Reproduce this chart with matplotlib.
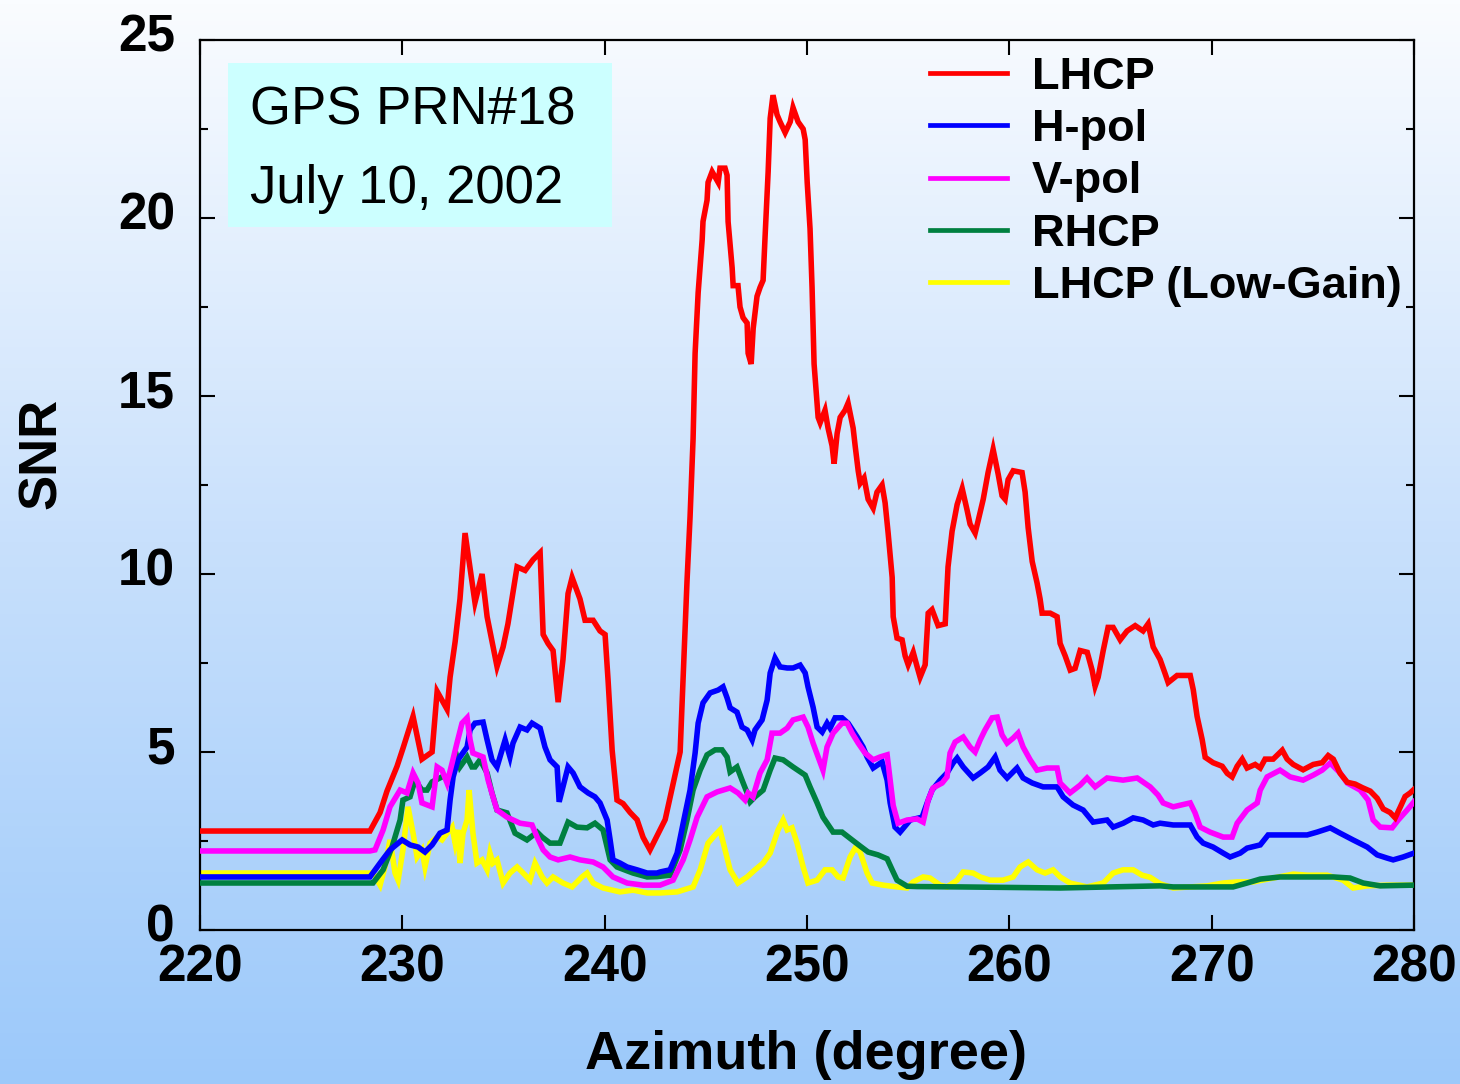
import numpy as np
import matplotlib
matplotlib.use("Agg")
import matplotlib.pyplot as plt
import matplotlib.transforms as mtransforms
from matplotlib.colors import LinearSegmentedColormap
from matplotlib.patches import Rectangle

plt.rcParams['font.family'] = ['Liberation Sans', 'DejaVu Sans']

# ---- data (azimuth in degrees, SNR) ----
lhcp_az = [220, 228.4, 228.9, 229.24, 229.74, 230.03, 230.53, 230.97, 231.47, 231.72,
           232.21, 232.36, 232.61, 232.85, 233.1, 233.59, 233.94, 234.19, 234.68, 234.98,
           235.22, 235.67, 236.07, 236.46, 236.81, 236.96, 237.2, 237.45, 237.7, 237.94,
           238.19, 238.39, 238.78, 239.03, 239.43, 239.77, 240.02, 240.17, 240.37, 240.61,
           240.91, 241.26, 241.6, 241.9, 242.24, 242.64, 242.99, 243.73, 244.07, 244.22,
           244.37, 244.47, 244.62, 244.82, 244.86, 245.06, 245.11, 245.31, 245.61, 245.7,
           245.95, 246.05, 246.1, 246.3, 246.35, 246.59, 246.69, 246.84, 247.04, 247.09,
           247.24, 247.34, 247.53, 247.68, 247.83, 247.93, 248.08, 248.18, 248.32, 248.52,
           248.67, 248.92, 249.17, 249.31, 249.56, 249.81, 249.91, 250.01, 250.15, 250.25,
           250.35, 250.55, 250.65, 250.89, 251.04, 251.24, 251.34, 251.49, 251.64, 251.88,
           252.03, 252.28, 252.38, 252.53, 252.63, 252.82, 253.02, 253.27, 253.46, 253.71,
           253.86, 254.01, 254.21, 254.26, 254.45, 254.7, 254.85, 255.0, 255.25, 255.44,
           255.59, 255.84, 255.99, 256.18, 256.48, 256.83, 256.97, 257.17, 257.42, 257.67,
           257.91, 258.06, 258.31, 258.46, 258.71, 258.95, 259.2, 259.45, 259.64, 259.79,
           259.94, 260.19, 260.63, 260.78, 260.93, 261.13, 261.37, 261.52, 261.62, 262.02,
           262.36, 262.51, 262.76, 263.01, 263.25, 263.5, 263.85, 264.09, 264.24, 264.39,
           264.64, 264.88, 265.13, 265.48, 265.82, 266.22, 266.61, 266.86, 267.11, 267.45,
           267.7, 267.85, 268.29, 268.94, 269.09, 269.28, 269.53, 269.68, 270.07, 270.52,
           270.77, 271.01, 271.26, 271.51, 271.75, 272.15, 272.4, 272.64, 273.04, 273.49,
           273.73, 274.03, 274.52, 275.02, 275.46, 275.76, 276.01, 276.35, 276.7, 277.09,
           277.44, 277.84, 278.18, 278.48, 278.82, 279.07, 279.32, 279.56, 279.81, 280.0]
lhcp_snr = [2.78, 2.78, 3.3, 3.9, 4.6, 5.1, 6.0, 4.8, 5.0, 6.7,
            6.2, 7.1, 8.1, 9.3, 11.15, 9.2, 10.0, 8.8, 7.4, 7.95,
            8.6, 10.2, 10.1, 10.4, 10.6, 8.3, 8.05, 7.85, 6.4, 7.6,
            9.45, 9.9, 9.3, 8.7, 8.7, 8.4, 8.3, 7.0, 5.05, 3.65,
            3.55, 3.3, 3.1, 2.6, 2.25, 2.7, 3.1, 5.0, 9.8, 11.6,
            13.8, 16.2, 17.9, 19.4, 19.9, 20.5, 21.0, 21.3, 21.0, 21.4,
            21.4, 21.2, 19.9, 18.6, 18.1, 18.1, 17.5, 17.2, 17.05, 16.2,
            15.9, 16.9, 17.8, 18.05, 18.25, 19.5, 21.3, 22.8, 23.45, 22.9,
            22.7, 22.4, 22.7, 23.1, 22.7, 22.5, 22.2, 21.0, 19.7, 18.05,
            15.9, 14.4, 14.25, 14.6, 14.1, 13.6, 13.1, 13.95, 14.4, 14.6,
            14.8, 14.1, 13.6, 12.9, 12.55, 12.7, 12.1, 11.85, 12.3, 12.5,
            12.0, 11.15, 9.9, 8.8, 8.2, 8.15, 7.7, 7.45, 7.8, 7.4,
            7.1, 7.45, 8.9, 9.0, 8.55, 8.6, 10.2, 11.2, 11.95, 12.4,
            11.8, 11.4, 11.15, 11.5, 12.1, 12.85, 13.5, 12.8, 12.2, 12.1,
            12.65, 12.9, 12.85, 12.3, 11.3, 10.35, 9.75, 9.3, 8.9, 8.9,
            8.8, 8.05, 7.7, 7.3, 7.35, 7.85, 7.8, 7.3, 6.85, 7.1,
            7.85, 8.5, 8.5, 8.15, 8.4, 8.55, 8.4, 8.6, 7.95, 7.6,
            7.2, 6.95, 7.15, 7.15, 6.75, 6.0, 5.35, 4.85, 4.7, 4.6,
            4.4, 4.3, 4.6, 4.8, 4.55, 4.65, 4.55, 4.8, 4.8, 5.05,
            4.8, 4.65, 4.5, 4.65, 4.7, 4.9, 4.8, 4.4, 4.15, 4.1,
            4.0, 3.9, 3.7, 3.4, 3.3, 3.15, 3.45, 3.75, 3.85, 3.95]

hpol_az = [220, 228.4, 228.9, 229.39, 229.99, 230.38, 230.78, 231.12, 231.47, 231.86,
           232.21, 232.36, 232.51, 232.75, 233.2, 233.35, 233.59, 233.99, 234.19, 234.43,
           234.68, 234.93, 235.08, 235.32, 235.47, 235.82, 236.16, 236.41, 236.81, 237.05,
           237.3, 237.65, 237.75, 237.94, 238.19, 238.44, 238.78, 239.18, 239.52, 239.77,
           240.12, 240.27, 240.41, 240.76, 241.11, 241.6, 242.1, 242.59, 242.74, 243.23,
           243.58, 243.88, 244.22, 244.47, 244.62, 244.86, 245.21, 245.61, 245.85, 246.05,
           246.2, 246.54, 246.79, 247.04, 247.29, 247.43, 247.78, 248.03, 248.18, 248.42,
           248.67, 249.02, 249.31, 249.66, 249.91, 250.05, 250.3, 250.5, 250.75, 250.99,
           251.14, 251.39, 251.73, 252.03, 252.48, 252.77, 252.97, 253.27, 253.71, 253.96,
           254.11, 254.35, 254.6, 255.1, 255.69, 255.94, 256.18, 256.58, 256.92, 257.22,
           257.42, 257.72, 258.21, 258.56, 258.95, 259.3, 259.54, 259.89, 260.38, 260.68,
           261.13, 261.67, 262.36, 262.66, 263.15, 263.65, 264.14, 264.83, 265.13, 265.63,
           266.12, 266.61, 267.11, 267.45, 268.1, 268.94, 269.28, 269.58, 270.07, 270.57,
           270.91, 271.41, 271.75, 272.4, 272.79, 273.88, 274.72, 275.21, 275.86, 276.35,
           276.99, 277.69, 278.18, 278.67, 278.97, 279.46, 280.0]
hpol_snr = [1.49, 1.49, 1.88, 2.25, 2.53, 2.39, 2.33, 2.19, 2.39, 2.72,
            2.81, 3.65, 4.3, 4.78, 5.14, 5.62, 5.81, 5.84, 5.34, 4.78,
            4.58, 5.06, 5.34, 4.86, 5.25, 5.7, 5.62, 5.81, 5.67, 5.14,
            4.78, 4.58, 3.6, 4.02, 4.58, 4.41, 4.02, 3.85, 3.74, 3.57,
            3.09, 2.53, 1.97, 1.88, 1.77, 1.69, 1.6, 1.6, 1.63, 1.69,
            2.16, 3.0, 3.93, 4.97, 5.81, 6.38, 6.66, 6.74, 6.83, 6.52,
            6.24, 6.12, 5.7, 5.62, 5.34, 5.62, 5.9, 6.46, 7.22, 7.64,
            7.39, 7.36, 7.36, 7.44, 7.22, 6.83, 6.26, 5.7, 5.56, 5.81,
            5.67, 5.96, 5.96, 5.81, 5.42, 5.14, 4.86, 4.55, 4.72, 4.21,
            3.57, 2.89, 2.75, 3.09, 3.17, 3.57, 3.93, 4.21, 4.41, 4.69,
            4.83, 4.58, 4.27, 4.41, 4.58, 4.86, 4.49, 4.27, 4.55, 4.27,
            4.13, 4.02, 4.02, 3.74, 3.51, 3.37, 3.03, 3.09, 2.89, 3.0,
            3.15, 3.09, 2.95, 3.0, 2.95, 2.95, 2.61, 2.44, 2.33, 2.16,
            2.05, 2.16, 2.3, 2.39, 2.67, 2.67, 2.67, 2.75, 2.87, 2.72,
            2.53, 2.33, 2.11, 2.02, 1.97, 2.05, 2.16]

vpol_az = [220, 228.4, 228.65, 229.05, 229.39, 229.89, 230.23, 230.53, 230.78, 230.97,
           231.47, 231.72, 231.96, 232.21, 232.46, 232.7, 232.95, 233.2, 233.35, 233.49,
           233.99, 234.24, 234.48, 234.68, 235.17, 235.82, 236.41, 236.66, 236.96, 237.3,
           237.7, 238.29, 238.78, 239.43, 239.92, 240.41, 241.11, 241.9, 242.74, 243.38,
           243.88, 244.22, 244.57, 245.06, 245.56, 246.2, 246.59, 246.94, 247.09, 247.33,
           247.68, 248.03, 248.27, 248.67, 249.02, 249.31, 249.81, 250.05, 250.3, 250.55,
           250.79, 250.99, 251.29, 251.73, 251.98, 252.23, 252.53, 252.87, 253.27, 253.61,
           253.96, 254.11, 254.26, 254.5, 254.95, 255.44, 255.74, 255.99, 256.23, 256.68,
           256.92, 257.07, 257.32, 257.72, 258.06, 258.31, 258.56, 258.8, 259.15, 259.4,
           259.64, 259.89, 260.19, 260.43, 260.68, 261.03, 261.37, 261.87, 262.36, 262.51,
           263.0, 263.5, 263.84, 264.24, 264.83, 265.62, 266.32, 266.96, 267.35, 267.6,
           268.1, 268.94, 269.18, 269.43, 269.92, 270.57, 271.01, 271.26, 271.75, 272.25,
           272.4, 272.74, 273.38, 273.88, 274.52, 275.02, 275.46, 275.86, 276.35, 276.7,
           277.34, 277.73, 277.98, 278.33, 278.92, 279.22, 279.66, 280.0]
vpol_snr = [2.22, 2.22, 2.25, 2.81, 3.46, 3.93, 3.85, 4.41, 4.13, 3.57,
            3.46, 4.58, 4.49, 4.13, 4.69, 5.25, 5.81, 5.96, 5.34, 4.97,
            4.86, 4.21, 3.74, 3.37, 3.17, 3.0, 2.95, 2.61, 2.25, 2.05,
            1.97, 2.05, 1.97, 1.91, 1.77, 1.49, 1.32, 1.26, 1.26, 1.4,
            1.97, 2.53, 3.17, 3.74, 3.88, 3.99, 3.85, 3.65, 3.85, 3.74,
            4.41, 4.78, 5.53, 5.53, 5.67, 5.9, 5.98, 5.7, 5.25, 4.86,
            4.49, 5.14, 5.53, 5.81, 5.81, 5.53, 5.25, 4.97, 4.78, 4.86,
            4.92, 4.21, 3.5, 3.0, 3.09, 3.12, 3.03, 3.65, 3.99, 4.13,
            4.3, 4.97, 5.28, 5.42, 5.14, 5.0, 5.34, 5.62, 5.96, 5.98,
            5.48, 5.25, 5.39, 5.53, 5.14, 4.78, 4.49, 4.55, 4.55, 4.13,
            3.85, 4.07, 4.27, 4.02, 4.27, 4.21, 4.27, 4.02, 3.79, 3.57,
            3.46, 3.57, 3.29, 2.89, 2.75, 2.61, 2.61, 3.0, 3.37, 3.57,
            3.93, 4.3, 4.49, 4.3, 4.21, 4.35, 4.49, 4.69, 4.41, 4.13,
            3.93, 3.65, 3.09, 2.89, 2.87, 3.09, 3.37, 3.6]

rhcp_az = [220, 228.4, 228.55, 229.05, 229.49, 229.89, 230.03, 230.38, 230.63, 230.97,
           231.22, 231.47, 231.96, 232.36, 232.7, 232.85, 233.2, 233.44, 233.59, 233.84,
           234.19, 234.43, 234.68, 235.17, 235.57, 236.16, 236.66, 236.91, 237.3, 237.79,
           238.19, 238.63, 239.13, 239.52, 239.92, 240.27, 240.61, 241.4, 242.1, 242.59,
           243.23, 243.73, 244.07, 244.37, 244.72, 245.06, 245.46, 245.8, 246.05, 246.2,
           246.54, 246.79, 247.04, 247.19, 247.43, 247.83, 248.18, 248.42, 248.82, 249.31,
           249.91, 250.15, 250.5, 250.79, 251.29, 251.73, 252.23, 252.62, 253.02, 253.51,
           253.96, 254.21, 254.45, 254.95, 255.44, 257.57, 262.51, 267.45, 268.1, 269.78,
           271.06, 271.75, 272.4, 273.38, 274.72, 276.01, 276.84, 277.49, 278.33, 280.0]
rhcp_snr = [1.32, 1.32, 1.32, 1.69, 2.33, 3.09, 3.65, 3.74, 4.21, 3.93,
            3.93, 4.16, 4.3, 4.3, 4.86, 4.58, 4.86, 4.58, 4.58, 4.78,
            4.41, 3.85, 3.37, 3.29, 2.72, 2.53, 2.75, 2.61, 2.44, 2.44,
            3.03, 2.89, 2.87, 3.0, 2.81, 1.97, 1.77, 1.6, 1.49, 1.5,
            1.54, 2.25, 3.09, 3.93, 4.49, 4.92, 5.06, 5.06, 4.86, 4.44,
            4.58, 4.21, 3.85, 3.6, 3.74, 3.93, 4.49, 4.83, 4.78, 4.58,
            4.35, 4.02, 3.57, 3.17, 2.75, 2.75, 2.53, 2.36, 2.19, 2.11,
            2.0, 1.69, 1.4, 1.23, 1.22, 1.21, 1.18, 1.24, 1.21, 1.21,
            1.21, 1.32, 1.43, 1.49, 1.49, 1.49, 1.46, 1.32, 1.24, 1.26]

lowgain_az = [220, 228.4, 228.55, 228.9, 229.14, 229.39, 229.64, 229.79, 230.03, 230.28,
              230.53, 230.73, 230.97, 231.12, 231.37, 231.72, 231.96, 232.21, 232.46, 232.61,
              232.75, 232.85, 233.0, 233.2, 233.3, 233.49, 233.69, 233.94, 234.19, 234.33,
              234.48, 234.68, 234.98, 235.32, 235.67, 235.97, 236.31, 236.56, 236.91, 237.15,
              237.45, 237.94, 238.39, 238.88, 239.13, 239.43, 239.92, 240.76, 241.4, 242.1,
              242.74, 243.58, 244.37, 244.72, 245.11, 245.46, 245.7, 245.95, 246.2, 246.59,
              247.04, 247.43, 247.83, 248.18, 248.57, 248.82, 249.02, 249.26, 249.51, 249.81,
              250.05, 250.5, 250.89, 251.24, 251.54, 251.78, 252.13, 252.38, 252.62, 252.97,
              253.22, 253.76, 254.45, 254.95, 255.25, 255.74, 256.08, 256.58, 256.92, 257.42,
              257.72, 258.21, 258.56, 259.05, 259.69, 260.19, 260.53, 260.93, 261.37, 261.77,
              262.16, 262.51, 263.0, 263.84, 264.64, 265.13, 265.62, 266.12, 266.56, 266.96,
              267.45, 268.1, 268.94, 269.78, 270.57, 271.26, 272.05, 273.04, 274.03, 274.72,
              275.71, 276.5, 276.99, 277.69, 278.67, 280.0]
lowgain_snr = [1.6, 1.6, 1.6, 1.26, 1.77, 2.53, 1.6, 1.4, 2.25, 3.46,
               2.72, 2.05, 2.25, 1.77, 2.44, 2.61, 2.53, 2.72, 2.89, 2.44,
               2.81, 1.88, 2.72, 3.09, 3.93, 2.72, 1.88, 1.97, 1.69, 2.16,
               1.88, 1.97, 1.32, 1.6, 1.77, 1.6, 1.4, 1.88, 1.49, 1.32,
               1.49, 1.32, 1.21, 1.49, 1.6, 1.32, 1.18, 1.07, 1.12, 1.04,
               1.04, 1.07, 1.21, 1.69, 2.44, 2.67, 2.81, 2.25, 1.69, 1.32,
               1.49, 1.69, 1.88, 2.16, 2.81, 3.09, 2.81, 2.87, 2.44, 1.77,
               1.32, 1.4, 1.69, 1.69, 1.49, 1.46, 2.05, 2.3, 2.2, 1.6,
               1.32, 1.26, 1.21, 1.18, 1.35, 1.49, 1.46, 1.26, 1.21, 1.4,
               1.63, 1.6, 1.49, 1.4, 1.4, 1.49, 1.77, 1.91, 1.69, 1.6,
               1.69, 1.49, 1.32, 1.21, 1.32, 1.6, 1.69, 1.69, 1.54, 1.48,
               1.3, 1.18, 1.21, 1.24, 1.32, 1.35, 1.35, 1.46, 1.57, 1.54,
               1.54, 1.4, 1.18, 1.24, 1.26, 1.26]

series_names = ['LHCP', 'H-pol', 'V-pol', 'RHCP', 'LHCP (Low-Gain)']
series_colors = ['#FF0000', '#0000FF', '#FF00FF', '#008040', '#FFFF00']
x_ticks = [220, 230, 240, 250, 260, 270, 280]
y_ticks = [0, 5, 10, 15, 20, 25]

fig = plt.figure(figsize=(14.6, 10.84), dpi=100)

# background gradient: near white at top to light blue at bottom
bg = fig.add_axes([0, 0, 1, 1], zorder=-10)
grad_cmap = LinearSegmentedColormap.from_list('bg', ['#9CC9FA', '#C8E0FC', '#FAFCFF'])
bg.imshow(np.linspace(0, 1, 256).reshape(-1, 1)[::-1], aspect='auto', cmap=grad_cmap,
          extent=[0, 1, 0, 1])
bg.axis('off')

ax = fig.add_axes([200 / 1460, 154 / 1084, 1214 / 1460, 890 / 1084])
ax.set_facecolor('none')

data = {
    'LHCP': (lhcp_az, lhcp_snr),
    'H-pol': (hpol_az, hpol_snr),
    'V-pol': (vpol_az, vpol_snr),
    'RHCP': (rhcp_az, rhcp_snr),
    'LHCP (Low-Gain)': (lowgain_az, lowgain_snr),
}
zorders = {'LHCP (Low-Gain)': 2, 'RHCP': 3, 'H-pol': 4, 'V-pol': 5, 'LHCP': 6}
handles = []
for name, color in zip(series_names, series_colors):
    az, snr = data[name]
    line, = ax.plot(az, snr, color=color, lw=4.0, zorder=zorders[name],
                    solid_joinstyle='miter', label=name)
    handles.append(line)

ax.set_xlim(220, 280)
ax.set_ylim(0, 25)
ax.set_xticks(x_ticks)
ax.set_yticks(y_ticks)
ax.set_yticks(np.arange(2.5, 25, 5), minor=True)
ax.tick_params(axis='both', which='major', direction='in', length=11, width=1.5,
               top=True, right=True, labelsize=37)
ax.tick_params(axis='y', which='minor', direction='in', length=6, width=1.5,
               left=True, right=True)
ax.tick_params(axis='y', which='major', pad=18)
ax.tick_params(axis='x', which='major', pad=10)
for lab in ax.get_xticklabels() + ax.get_yticklabels():
    lab.set_fontweight('bold')
# y tick labels sit a little above their ticks in the original
lift = mtransforms.ScaledTranslation(0, 8 / 100, fig.dpi_scale_trans)
for lab in ax.yaxis.get_majorticklabels():
    lab.set_transform(lab.get_transform() + lift)
for sp in ax.spines.values():
    sp.set_linewidth(1.6)

ax.set_xlabel('Azimuth (degree)', fontsize=39, fontweight='bold')
ax.set_ylabel('SNR', fontsize=38, fontweight='bold')
ax.xaxis.set_label_coords(0.499, -0.112)
ax.yaxis.set_label_coords(-0.1095, 0.536)

# info box
ax.add_patch(Rectangle((0.023, 0.790), 0.316, 0.184, transform=ax.transAxes,
                       facecolor='#CCFFFF', edgecolor='none', zorder=1))
ax.text(0.041, 0.9045, 'GPS PRN#18', transform=ax.transAxes, fontsize=38,
        va='baseline', ha='left', zorder=7)
ax.text(0.041, 0.817, 'July 10, 2002', transform=ax.transAxes, fontsize=38,
        va='baseline', ha='left', zorder=7)

leg = ax.legend(handles, series_names, loc='upper left', bbox_to_anchor=(0.601, 0.981),
                frameon=False, prop={'weight': 'bold', 'size': 32.5}, handlelength=1.72,
                handletextpad=0.55, labelspacing=0.25, borderpad=0, borderaxespad=0)
for lh in leg.get_lines():
    lh.set_linewidth(3.4)

fig.savefig('out.png', dpi=100)
